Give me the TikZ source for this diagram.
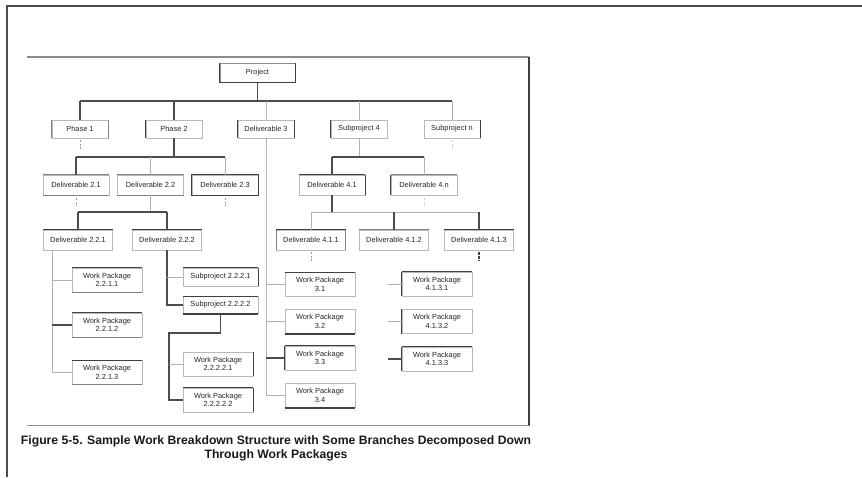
\documentclass[tikz,border=0pt]{standalone}
\usepackage{fontspec}
\setmainfont{Liberation Sans}
\usetikzlibrary{calc}

% darker edges on individual box sides
\newcommand\wbsTop[1]{\draw[hard] (#1.north west) -- (#1.north east);}
\newcommand\wbsBot[1]{\draw[hard] (#1.south west) -- (#1.south east);}
\newcommand\wbsLeft[1]{\draw[hard] (#1.north west) -- (#1.south west);}
\newcommand\wbsRight[1]{\draw[hard] (#1.north east) -- (#1.south east);}
\newcommand\wbsTopMid[1]{\draw[mid] (#1.north west) -- (#1.north east);}
\newcommand\wbsBotMid[1]{\draw[mid] (#1.south west) -- (#1.south east);}

\begin{document}
\begin{tikzpicture}[x=1pt,y=-1pt,
  box/.style={draw=black!28, line width=0.6pt, fill=white, inner sep=0pt,
    align=center, text=black!85, font=\fontsize{7.4}{8.6}\selectfont},
  lone/.style={box, minimum width=56, minimum height=18},
  ltwo/.style={box, minimum width=66, minimum height=20},
  lthree/.style={box, minimum width=69, minimum height=20},
  pkg/.style={box, minimum width=70, minimum height=24},
  sub/.style={box, minimum width=75, minimum height=17},
  hard/.style={draw=black!75, line width=1.4pt},
  mid/.style={draw=black!50, line width=1pt},
  link/.style={draw=black!70, line width=1.4pt},
  faint/.style={draw=black!30, line width=0.9pt},
  gap/.style={draw=black!40, line width=0.9pt, dash pattern=on 2pt off 1.5pt},
  gapdark/.style={draw=black!75, line width=1.3pt, dash pattern=on 2.5pt off 1.5pt},
]
\useasboundingbox (0,0) rectangle (862,477);

% page edges and figure frame
\draw[black!70, line width=1.2pt] (7,477) -- (7,6) -- (862,6);
\draw[black!45, line width=1.8pt] (27,57) -- (529,57);
\draw[black!75, line width=1.3pt] (529,57) -- (529,426);
\draw[black!45, line width=1.8pt] (27,425.5) -- (529,425.5);

% rows of the breakdown
\node[box, minimum width=75, minimum height=19, draw=black!45, line width=1pt] (proj) at (257.5,72.5) {Project};

\node[lone] (ph1) at (80,129) {Phase 1};
\node[lone] (ph2) at (174,129) {Phase 2};
\node[lone] (d3)  at (266,129) {Deliverable 3};
\node[lone] (sp4) at (359,129) {Subproject 4};
\node[lone] (spn) at (452,129) {Subproject n};

\node[ltwo] (d21) at (76,185) {Deliverable 2.1};
\node[ltwo] (d22) at (150.5,185) {Deliverable 2.2};
\node[ltwo] (d23) at (225,185) {Deliverable 2.3};
\node[ltwo] (d41) at (332,185) {Deliverable 4.1};
\node[ltwo] (d4n) at (424,185) {Deliverable 4.n};

\node[lthree] (d221) at (78,240) {Deliverable 2.2.1};
\node[lthree] (d222) at (167,240) {Deliverable 2.2.2};
\node[lthree] (d411) at (311,240) {Deliverable 4.1.1};
\node[lthree] (d412) at (394,240) {Deliverable 4.1.2};
\node[lthree] (d413) at (479,240) {Deliverable 4.1.3};

\node[pkg] (w2211) at (107,280)   {Work Package\\2.2.1.1};
\node[pkg] (w2212) at (107,325)   {Work Package\\2.2.1.2};
\node[pkg] (w2213) at (107,372.5) {Work Package\\2.2.1.3};

\node[sub, minimum height=18] (s2221) at (220.5,277) {Subproject 2.2.2.1};
\node[sub] (s2222) at (220.5,305) {Subproject 2.2.2.2};

\node[pkg] (w22221) at (218,364) {Work Package\\2.2.2.2.1};
\node[pkg] (w22222) at (218,400) {Work Package\\2.2.2.2.2};

\node[pkg] (w31) at (320,284.5) {Work Package\\3.1};
\node[pkg] (w32) at (320,321.5) {Work Package\\3.2};
\node[pkg] (w33) at (320,358)   {Work Package\\3.3};
\node[pkg] (w34) at (320,395.5) {Work Package\\3.4};

\node[pkg] (w4131) at (437,284)   {Work Package\\4.1.3.1};
\node[pkg] (w4132) at (437,321.5) {Work Package\\4.1.3.2};
\node[pkg] (w4133) at (437,359)   {Work Package\\4.1.3.3};

% emphasised box sides
\wbsLeft{proj}\wbsRight{proj}\wbsBot{proj}
\draw[mid] (ph1.north west) -- (ph1.south west);
\draw[mid] (ph1.north east) -- (ph1.south east);
\wbsLeft{ph2}
\wbsLeft{d3}\wbsRight{d3}
\wbsLeft{sp4}
\wbsRight{spn}
\wbsTopMid{d21}\wbsBotMid{d21}
\wbsTopMid{d22}\wbsBotMid{d22}
\draw[hard] (d23.south west) rectangle (d23.north east);
\wbsTop{d41}\wbsRight{d41}
\wbsLeft{d4n}\wbsTopMid{d4n}
\wbsTop{d221}
\wbsTop{d222}
\wbsTop{d411}
\draw[mid] (d411.north west) -- (d411.south west);
\draw[mid] (d411.north east) -- (d411.south east);
\wbsTopMid{d412}
\wbsTop{d413}
\wbsTop{w2211}\wbsBotMid{w2211}
\wbsTop{w2212}\wbsBotMid{w2212}
\wbsTop{w2213}\wbsBotMid{w2213}
\wbsTop{s2221}\wbsRight{s2221}
\wbsTop{s2222}\wbsBot{s2222}
\wbsRight{w22221}
\wbsTop{w22222}\wbsRight{w22222}
\wbsTop{w31}
\wbsBot{w32}
\wbsTop{w33}\wbsLeft{w33}
\wbsBot{w34}
\wbsTop{w4131}\wbsLeft{w4131}
\wbsLeft{w4132}
\wbsTop{w4133}\wbsLeft{w4133}

% bus heights and free stub ends
\coordinate (busA) at (0,101);
\coordinate (busB) at (0,157);
\coordinate (busC) at (0,212);
\coordinate (jog) at (0,333);
\coordinate (rstub) at (388,0);
\coordinate (c221) at (52,250);
\coordinate (c2222) at (169,0);

% project to first row
\draw[link] (proj.south) -- (proj.south |- busA);
\draw[link] (ph1.north |- busA) -- (spn.north |- busA);
\draw[link] (ph1.north |- busA) -- (ph1.north);
\draw[link] (ph2.north |- busA) -- (ph2.north);
\draw[faint] (d3.north |- busA) -- (d3.north);
\draw[faint] (sp4.north |- busA) -- (sp4.north);
\draw[faint] (spn.north |- busA) -- (spn.north);
\draw[gap] ($(ph1.south)+(0,2)$) -- ++(0,9);
\draw[gap, black!20] ($(spn.south)+(0,2)$) -- ++(0,9);

% second row
\draw[link] (ph2.south) -- (ph2.south |- busB);
\draw[link] (d21.north |- busB) -- (d23.north |- busB);
\draw[link] (d21.north |- busB) -- (d21.north);
\draw[faint] (d22.north |- busB) -- (d22.north);
\draw[faint] (d23.north |- busB) -- (d23.north);
\draw[faint] (sp4.south) -- (sp4.south |- busB);
\draw[link] (d41.north |- busB) -- (d4n.north |- busB);
\draw[link] (d41.north |- busB) -- (d41.north);
\draw[faint] (d4n.north |- busB) -- (d4n.north);
\draw[gap] ($(d21.south)+(0,3)$) -- ++(0,8);
\draw[gap] ($(d23.south)+(0,3)$) -- ++(0,8);
\draw[gap, black!20] ($(d4n.south)+(0,3)$) -- ++(0,8);

% third row
\draw[faint] (d22.south) -- (d22.south |- busC);
\draw[link] (d221.north |- busC) -- (d222.north |- busC);
\draw[link] (d221.north |- busC) -- (d221.north);
\draw[link] (d222.north |- busC) -- (d222.north);
\draw[link] (d41.south) -- (d41.south |- busC);
\draw[faint] (d411.north |- busC) -- (d413.north |- busC);
\draw[faint] (d411.north |- busC) -- (d411.north);
\draw[link] (d412.north |- busC) -- (d412.north);
\draw[link] (d413.north |- busC) -- (d413.north);
\draw[gap] ($(d411.south)+(0,2)$) -- ++(0,9);
\draw[gapdark] ($(d413.south)+(0,2)$) -- ++(0,9);

% work packages under Deliverable 2.2.1
\draw[faint] (c221) -- (c221 |- w2213.west);
\draw[faint] (c221 |- w2211.west) -- (w2211.west);
\draw[link] (c221 |- w2212.west) -- (w2212.west);
\draw[faint] (c221 |- w2213.west) -- (w2213.west);

% subprojects under Deliverable 2.2.2
\draw[link] (d222.south) -- (d222.south |- s2222.west) -- (s2222.west);
\draw[faint] (d222.south |- s2221.west) -- (s2221.west);

% work packages under Subproject 2.2.2.2
\draw[link] (s2222.south) -- (s2222.south |- jog) -- (c2222 |- jog)
  -- (c2222 |- w22222.west) -- (w22222.west);
\draw[faint] (c2222 |- w22221.west) -- (w22221.west);

% work packages under Deliverable 3
\draw[faint] (d3.south) -- (d3.south |- w34.west);
\draw[faint] (d3.south |- w31.west) -- (w31.west);
\draw[faint] (d3.south |- w32.west) -- (w32.west);
\draw[link] (d3.south |- w33.west) -- (w33.west);
\draw[faint] (d3.south |- w34.west) -- (w34.west);

% work packages on the right
\draw[faint] (rstub |- w4131.west) -- (w4131.west);
\draw[faint] (rstub |- w4132.west) -- (w4132.west);
\draw[link] (rstub |- w4133.west) -- (w4133.west);

% caption
\node[font=\bfseries\fontsize{12.2}{14.5}\selectfont, align=center, text=black!90, inner sep=0pt]
  (cap) at (276,448.5)
  {Figure 5-5. Sample Work Breakdown Structure with Some Branches Decomposed Down\\
   Through Work Packages};
\end{tikzpicture}
\end{document}
